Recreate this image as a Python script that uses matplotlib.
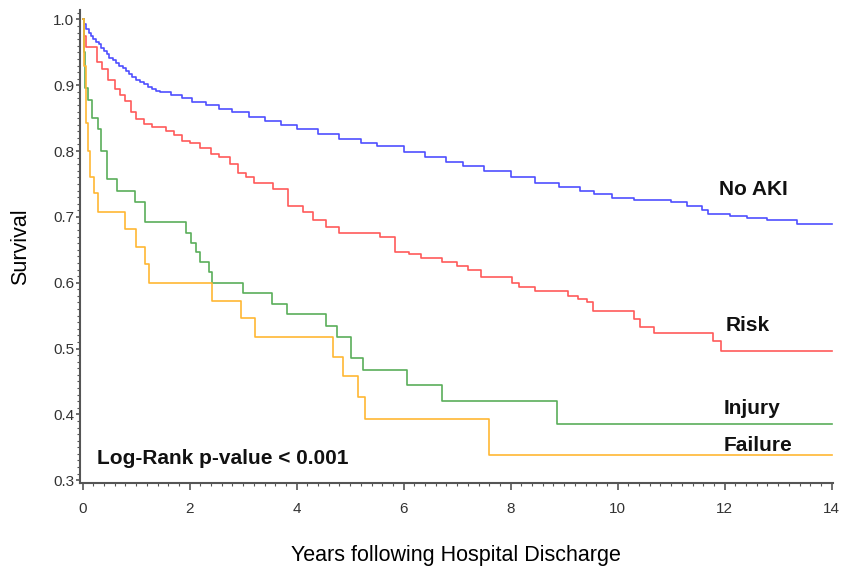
import matplotlib
matplotlib.use('Agg')
import matplotlib.pyplot as plt
from matplotlib.ticker import MultipleLocator

plt.rcParams['font.family'] = ['Liberation Sans', 'DejaVu Sans']

# Kaplan-Meier step points (time in years, survival)
no_aki_t = [0, 0.03, 0.07, 0.12, 0.16, 0.2, 0.25, 0.3, 0.35, 0.4, 0.45, 0.5, 0.56, 0.62,
            0.68, 0.75, 0.81, 0.87, 0.93, 1.0, 1.07, 1.15, 1.22, 1.3, 1.37, 1.45,
            1.65, 1.85, 2.05, 2.3, 2.55, 2.8, 3.1, 3.4, 3.7, 4.0, 4.4, 4.8, 5.2, 5.5,
            6.0, 6.4, 6.8, 7.1, 7.5, 8.0, 8.45, 8.9, 9.3, 9.55, 9.9, 10.3, 11.0, 11.3,
            11.57, 11.68, 12.1, 12.41, 12.8, 13.35, 14.0]
no_aki_s = [1.0, 0.993, 0.986, 0.98, 0.975, 0.97, 0.966, 0.962, 0.957, 0.952, 0.947, 0.942,
            0.938, 0.934, 0.93, 0.926, 0.921, 0.917, 0.912, 0.908, 0.905, 0.902, 0.898,
            0.895, 0.892, 0.889, 0.885, 0.88, 0.875, 0.87, 0.864, 0.859, 0.852, 0.846,
            0.84, 0.834, 0.826, 0.818, 0.812, 0.807, 0.799, 0.791, 0.784, 0.778, 0.77,
            0.76, 0.752, 0.745, 0.74, 0.735, 0.729, 0.725, 0.722, 0.717, 0.711, 0.704,
            0.701, 0.698, 0.695, 0.689, 0.689]

risk_t = [0, 0.03, 0.07, 0.27, 0.37, 0.47, 0.6, 0.7, 0.8, 0.9, 1.0, 1.15, 1.3, 1.55, 1.7,
          1.85, 2.0, 2.2, 2.4, 2.55, 2.75, 2.9, 3.05, 3.2, 3.55, 3.83, 4.11, 4.3, 4.55,
          4.8, 5.55, 5.83, 6.1, 6.32, 6.71, 7.0, 7.2, 7.44, 8.03, 8.15, 8.45, 9.08, 9.25,
          9.42, 9.54, 10.3, 10.42, 10.68, 11.78, 11.93, 14.0]
risk_s = [1.0, 0.975, 0.958, 0.935, 0.925, 0.908, 0.895, 0.885, 0.876, 0.86, 0.849, 0.841,
          0.836, 0.83, 0.824, 0.816, 0.812, 0.805, 0.796, 0.791, 0.78, 0.767, 0.76, 0.751,
          0.742, 0.716, 0.707, 0.696, 0.685, 0.676, 0.669, 0.647, 0.643, 0.638, 0.631,
          0.625, 0.619, 0.608, 0.6, 0.593, 0.587, 0.58, 0.575, 0.57, 0.557, 0.545, 0.532,
          0.523, 0.511, 0.497, 0.497]

injury_t = [0, 0.02, 0.04, 0.1, 0.17, 0.28, 0.35, 0.45, 0.65, 0.97, 1.16, 1.93, 2.02, 2.12,
            2.2, 2.37, 2.41, 2.99, 3.53, 3.81, 4.54, 4.76, 5.01, 5.24, 6.06, 6.71, 8.86, 14.0]
injury_s = [1.0, 0.95, 0.896, 0.878, 0.851, 0.833, 0.8, 0.757, 0.739, 0.723, 0.693, 0.676,
            0.661, 0.646, 0.631, 0.616, 0.6, 0.584, 0.567, 0.552, 0.534, 0.518, 0.485,
            0.467, 0.445, 0.42, 0.386, 0.386]

failure_t = [0, 0.02, 0.03, 0.06, 0.1, 0.13, 0.22, 0.28, 0.79, 1.0, 1.17, 1.24, 2.41, 2.96,
             3.23, 4.68, 4.87, 5.15, 5.28, 7.6, 14.0]
failure_s = [1.0, 0.95, 0.93, 0.843, 0.8, 0.761, 0.737, 0.708, 0.681, 0.654, 0.628, 0.6,
             0.572, 0.546, 0.518, 0.487, 0.458, 0.427, 0.393, 0.338, 0.338]

fig = plt.figure(figsize=(8.42, 5.68), dpi=100)
ax = fig.add_axes([0.095, 0.15, 0.894, 0.832])

ax.plot(no_aki_t, no_aki_s, drawstyle='steps-post', color='#4f4fff', lw=1.2)
ax.plot(risk_t, risk_s, drawstyle='steps-post', color='#ff5a5a', lw=1.2)
ax.plot(injury_t, injury_s, drawstyle='steps-post', color='#5aae5a', lw=1.2)
ax.plot(failure_t, failure_s, drawstyle='steps-post', color='#ffb733', lw=1.2)

lab = dict(fontsize=15, fontweight='bold', va='baseline', color='#111111')
ax.text(11.9, 0.734, 'No AKI', **lab)
ax.text(12.02, 0.526, 'Risk', **lab)
ax.text(11.98, 0.400, 'Injury', **lab)
ax.text(11.98, 0.345, 'Failure', **lab)
ax.text(0.26, 0.324, 'Log-Rank p-value < 0.001', **lab)

ax.set_xlim(-0.05, 14.02)
ax.set_ylim(0.296, 1.014)
ax.xaxis.set_major_locator(MultipleLocator(2))
ax.xaxis.set_minor_locator(MultipleLocator(0.2))
ax.yaxis.set_minor_locator(MultipleLocator(0.01))
ax.set_yticks([0.3, 0.4, 0.5, 0.6, 0.7, 0.8, 0.9, 1.0])
ax.set_yticklabels(['0.3', '0.4', '0.5', '0.6', '0.7', '0.8', '0.9', '1.0'])

for s in ['top', 'right']:
    ax.spines[s].set_visible(False)
for s in ['left', 'bottom']:
    ax.spines[s].set_color('#555555')
    ax.spines[s].set_linewidth(1.5)

ax.tick_params(axis='x', which='major', length=5, width=1.2, color='#555555',
               labelsize=11, labelcolor='#333333', pad=9)
ax.tick_params(axis='x', which='minor', length=2.5, width=0.8, color='#555555')
ax.tick_params(axis='y', which='major', length=3, width=1.2, color='#555555',
               labelsize=11, labelcolor='#333333', pad=1)
ax.tick_params(axis='y', which='minor', length=2, width=0.8, color='#555555')

ax.set_ylabel('Survival', fontsize=15.5, labelpad=16)
ax.set_xlabel('Years following Hospital Discharge', fontsize=15.5, labelpad=21)

fig.savefig('out.png', dpi=100)
